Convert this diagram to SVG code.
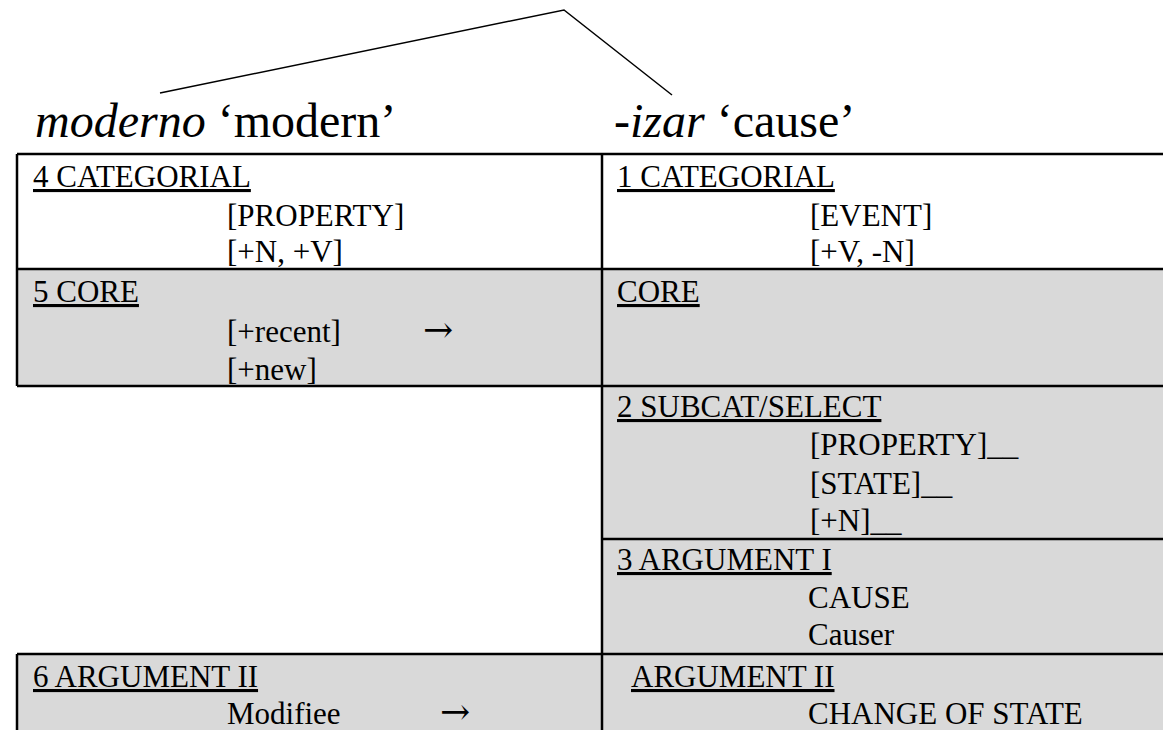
<svg xmlns="http://www.w3.org/2000/svg" width="1163" height="730" viewBox="0 0 1163 730" font-family="'Liberation Serif', 'DejaVu Serif', serif">
<style>
text{font-family:'Liberation Serif','DejaVu Serif',serif;fill:#000}
.t{font-size:48px}
.h{font-size:31px;text-decoration:underline}
.c{font-size:31px}
.a{font-size:36px;font-family:'DejaVu Serif',serif}
.it{font-style:italic}
.g{fill:#d9d9d9}
.b{stroke:#000;stroke-width:2.5;fill:none}
.conn{stroke:#000;stroke-width:1.5;fill:none}
</style>
<rect x="0" y="0" width="1163" height="730" fill="#fff"/>
<g id="connectors">
<polyline class="conn" points="160,93 564,10 672,95"/>
</g>
<g id="title-moderno"><text class="t" x="35" y="137"><tspan class="it">moderno</tspan> ‘modern’</text></g>
<g id="title-izar"><text class="t" x="614" y="137"><tspan class="it">-izar</tspan> ‘cause’</text></g>
<g id="backgrounds">
<rect class="g" x="17" y="269" width="585" height="117"/>
<rect class="g" x="17" y="654" width="585" height="76"/>
<rect class="g" x="602" y="269" width="561" height="461"/>
</g>
<g id="grid">
<path class="b" d="M17,154H1163M17,269H1163M17,386H1163M602,539H1163M17,654H1163M17,154V386M17,654V730M602,154V730"/>
</g>
<g id="cell-4-categorial">
<text class="h" x="33" y="187">4 CATEGORIAL</text>
<text class="c" x="227" y="226">[PROPERTY]</text>
<text class="c" x="227" y="262">[+N, +V]</text>
</g>
<g id="cell-5-core">
<text class="h" x="33" y="302">5 CORE</text>
<text class="c" x="227" y="342">[+recent]</text>
<text class="a" x="423" y="342">→</text>
<text class="c" x="227" y="380">[+new]</text>
</g>
<g id="cell-6-argument-ii">
<text class="h" x="33" y="687">6 ARGUMENT II</text>
<text class="c" x="227" y="724">Modifiee</text>
<text class="a" x="440" y="724">→</text>
</g>
<g id="cell-1-categorial">
<text class="h" x="617" y="187">1 CATEGORIAL</text>
<text class="c" x="810" y="226">[EVENT]</text>
<text class="c" x="810" y="262">[+V, -N]</text>
</g>
<g id="cell-core">
<text class="h" x="617" y="302">CORE</text>
</g>
<g id="cell-2-subcat">
<text class="h" x="617" y="417">2 SUBCAT/SELECT</text>
<text class="c" x="810" y="455">[PROPERTY]__</text>
<text class="c" x="810" y="494">[STATE]__</text>
<text class="c" x="810" y="531">[+N]__</text>
</g>
<g id="cell-3-argument-i">
<text class="h" x="617" y="570">3 ARGUMENT I</text>
<text class="c" x="808" y="608">CAUSE</text>
<text class="c" x="808" y="645">Causer</text>
</g>
<g id="cell-argument-ii">
<text class="h" x="631" y="687">ARGUMENT II</text>
<text class="c" x="808" y="724">CHANGE OF STATE</text>
</g>
</svg>
